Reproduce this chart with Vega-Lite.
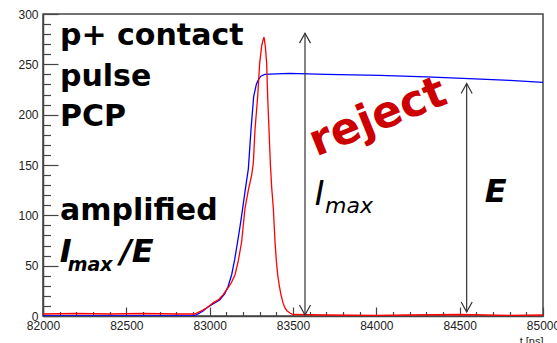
{
  "$schema": "https://vega.github.io/schema/vega-lite/v6.json",
  "width": 500,
  "height": 302,
  "autosize": {"type": "none"},
  "padding": {"left": 43, "top": 14, "right": 14, "bottom": 27},
  "background": "white",
  "config": {
    "view": {"stroke": "#444", "strokeWidth": 1.5},
    "axis": {
      "grid": false,
      "domainColor": "#444",
      "domainWidth": 1.5,
      "tickColor": "#444",
      "tickWidth": 1.2,
      "labelFont": "Liberation Sans",
      "labelFontSize": 12,
      "labelColor": "#222",
      "labelOverlap": false,
      "labelFlush": false,
      "titleFont": "Liberation Sans",
      "titleFontWeight": "normal",
      "titleColor": "#222"
    }
  },
  "datasets": {
    "blue": [
      {"t": 82000, "v": 0}, {"t": 82900, "v": 0}, {"t": 82930, "v": 2}, {"t": 82960, "v": 5},
      {"t": 82990, "v": 9}, {"t": 83030, "v": 13}, {"t": 83060, "v": 16}, {"t": 83090, "v": 22},
      {"t": 83110, "v": 29}, {"t": 83132, "v": 41}, {"t": 83150, "v": 56}, {"t": 83168, "v": 74},
      {"t": 83185, "v": 92}, {"t": 83198, "v": 107}, {"t": 83215, "v": 127}, {"t": 83232, "v": 146},
      {"t": 83248, "v": 185}, {"t": 83264, "v": 218}, {"t": 83280, "v": 230}, {"t": 83290, "v": 234},
      {"t": 83305, "v": 238}, {"t": 83330, "v": 240}, {"t": 83400, "v": 240.5}, {"t": 83480, "v": 241},
      {"t": 83700, "v": 240}, {"t": 84020, "v": 239}, {"t": 84300, "v": 237.5}, {"t": 84520, "v": 236},
      {"t": 84800, "v": 234}, {"t": 85000, "v": 232}
    ],
    "red": [
      {"t": 82000, "v": 2}, {"t": 82200, "v": 2.5}, {"t": 82400, "v": 2}, {"t": 82600, "v": 2.5},
      {"t": 82800, "v": 2}, {"t": 82910, "v": 2}, {"t": 82950, "v": 5}, {"t": 82990, "v": 9},
      {"t": 83020, "v": 13}, {"t": 83052, "v": 16}, {"t": 83080, "v": 21}, {"t": 83110, "v": 28},
      {"t": 83130, "v": 33}, {"t": 83152, "v": 41}, {"t": 83172, "v": 55}, {"t": 83192, "v": 74},
      {"t": 83212, "v": 107}, {"t": 83232, "v": 125}, {"t": 83252, "v": 140}, {"t": 83262, "v": 152},
      {"t": 83272, "v": 185}, {"t": 83288, "v": 218}, {"t": 83300, "v": 251}, {"t": 83312, "v": 268},
      {"t": 83320, "v": 274}, {"t": 83326, "v": 277}, {"t": 83334, "v": 268}, {"t": 83342, "v": 251},
      {"t": 83348, "v": 218}, {"t": 83356, "v": 185}, {"t": 83364, "v": 152}, {"t": 83372, "v": 128},
      {"t": 83382, "v": 107}, {"t": 83392, "v": 74}, {"t": 83400, "v": 55}, {"t": 83408, "v": 41},
      {"t": 83418, "v": 30}, {"t": 83428, "v": 21}, {"t": 83440, "v": 13}, {"t": 83452, "v": 8},
      {"t": 83465, "v": 5}, {"t": 83482, "v": 3}, {"t": 83500, "v": 1.5}, {"t": 83700, "v": 1},
      {"t": 84000, "v": 0.5}, {"t": 84200, "v": 1}, {"t": 84500, "v": 1.5}, {"t": 84800, "v": 0.5},
      {"t": 85000, "v": 1}
    ],
    "arrows": [
      {"t": 83572, "v": 1, "v2": 281},
      {"t": 84542, "v": 4, "v2": 231}
    ],
    "heads_top": [{"t": 83572, "v": 281}, {"t": 84542, "v": 231}],
    "heads_bottom": [{"t": 83572, "v": 1}, {"t": 84542, "v": 4}],
    "bold_text": [
      {"t": 82102, "v": 269, "label": "p+ contact"},
      {"t": 82102, "v": 228, "label": "pulse"},
      {"t": 82102, "v": 189, "label": "PCP"},
      {"t": 82102, "v": 95, "label": "amplified"}
    ],
    "bold_italic_text": [
      {"t": 82100, "v": 54, "label": "I"},
      {"t": 82462, "v": 54, "label": "/E"},
      {"t": 84650, "v": 113, "label": "E"}
    ],
    "sub_left": [{"t": 82148, "v": 45, "label": "max"}],
    "mid_I": [{"t": 83630, "v": 110, "label": "I"}],
    "sub_mid": [{"t": 83692, "v": 102.6, "label": "max"}],
    "reject": [{"t": 84010, "v": 197, "label": "reject"}]
  },
  "encoding": {
    "x": {
      "field": "t",
      "type": "quantitative",
      "scale": {"domain": [82000, 85000], "nice": false, "zero": false},
      "axis": {
        "values": [82000, 82100, 82200, 82300, 82400, 82500, 82600, 82700, 82800, 82900, 83000, 83100, 83200, 83300, 83400, 83500, 83600, 83700, 83800, 83900, 84000, 84100, 84200, 84300, 84400, 84500, 84600, 84700, 84800, 84900, 85000],
        "tickSize": {"condition": {"test": "datum.value % 500 === 0", "value": -9}, "value": -4.5},
        "labelExpr": "datum.value % 500 === 0 ? datum.label : ''",
        "format": "d",
        "labelPadding": 13,
        "title": "t [ns]",
        "titleFontSize": 11,
        "titleAnchor": "end",
        "titleAlign": "right",
        "titleBaseline": "top",
        "titleX": 500,
        "titleY": 19
      }
    },
    "y": {
      "field": "v",
      "type": "quantitative",
      "scale": {"domain": [0, 300], "nice": false, "zero": false},
      "axis": {
        "values": [0, 10, 20, 30, 40, 50, 60, 70, 80, 90, 100, 110, 120, 130, 140, 150, 160, 170, 180, 190, 200, 210, 220, 230, 240, 250, 260, 270, 280, 290, 300],
        "tickSize": {"condition": {"test": "datum.value % 50 === 0", "value": -15}, "value": -7.5},
        "labelExpr": "datum.value % 50 === 0 ? datum.label : ''",
        "labelPadding": 20,
        "title": null
      }
    }
  },
  "layer": [
    {
      "data": {"name": "blue"},
      "mark": {"type": "line", "color": "#0000ff", "strokeWidth": 1.3, "clip": true}
    },
    {
      "data": {"name": "red"},
      "mark": {"type": "line", "color": "#ff0000", "strokeWidth": 1.3, "clip": true}
    },
    {
      "data": {"name": "arrows"},
      "mark": {"type": "rule", "color": "#333", "strokeWidth": 1.2},
      "encoding": {"y2": {"field": "v2"}}
    },
    {
      "data": {"name": "heads_top"},
      "mark": {"type": "point", "shape": "M -0.55 1 L 0 0 L 0.55 1", "size": 400, "filled": false, "stroke": "#333", "strokeWidth": 1.2, "opacity": 1}
    },
    {
      "data": {"name": "heads_bottom"},
      "mark": {"type": "point", "shape": "M -0.55 -1 L 0 0 L 0.55 -1", "size": 400, "filled": false, "stroke": "#333", "strokeWidth": 1.2, "opacity": 1}
    },
    {
      "data": {"name": "bold_text"},
      "mark": {"type": "text", "align": "left", "baseline": "alphabetic", "font": "DejaVu Sans", "fontWeight": "bold", "fontSize": 30, "color": "#000"},
      "encoding": {"text": {"field": "label"}}
    },
    {
      "data": {"name": "bold_italic_text"},
      "mark": {"type": "text", "align": "left", "baseline": "alphabetic", "font": "DejaVu Sans", "fontWeight": "bold", "fontStyle": "italic", "fontSize": 32, "color": "#000"},
      "encoding": {"text": {"field": "label"}}
    },
    {
      "data": {"name": "sub_left"},
      "mark": {"type": "text", "align": "left", "baseline": "alphabetic", "font": "DejaVu Sans", "fontWeight": "bold", "fontStyle": "italic", "fontSize": 19, "color": "#000"},
      "encoding": {"text": {"field": "label"}}
    },
    {
      "data": {"name": "mid_I"},
      "mark": {"type": "text", "align": "left", "baseline": "alphabetic", "font": "DejaVu Sans", "fontStyle": "italic", "fontSize": 33, "color": "#000"},
      "encoding": {"text": {"field": "label"}}
    },
    {
      "data": {"name": "sub_mid"},
      "mark": {"type": "text", "align": "left", "baseline": "alphabetic", "font": "DejaVu Sans", "fontStyle": "italic", "fontSize": 22, "color": "#000"},
      "encoding": {"text": {"field": "label"}}
    },
    {
      "data": {"name": "reject"},
      "mark": {"type": "text", "align": "center", "baseline": "middle", "font": "DejaVu Sans", "fontWeight": "bold", "fontSize": 44, "angle": -22, "color": "#cc0000"},
      "encoding": {"text": {"field": "label"}}
    }
  ]
}
